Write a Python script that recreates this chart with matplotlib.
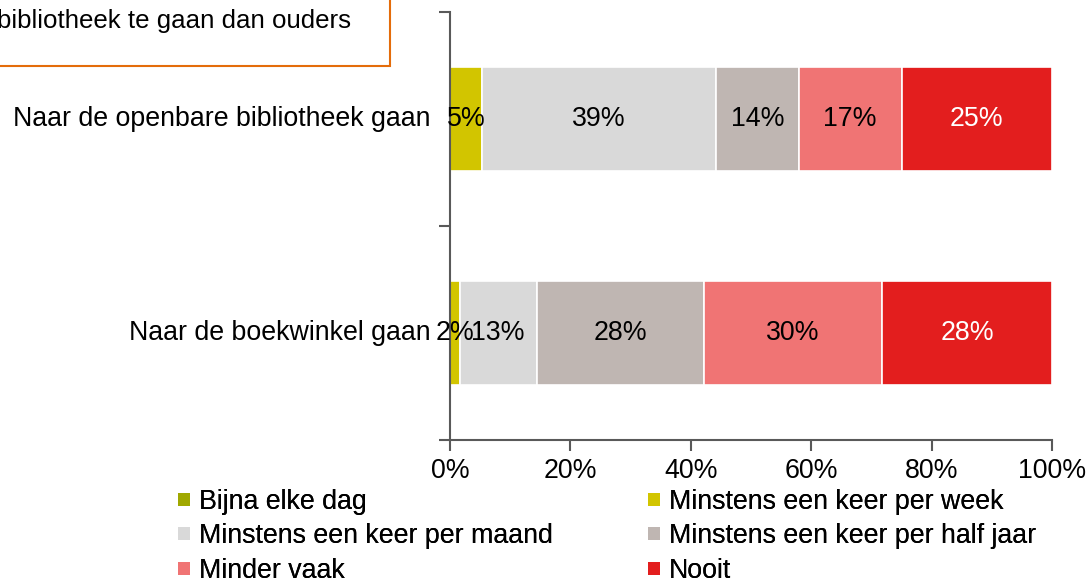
import matplotlib
matplotlib.use("Agg")
import matplotlib.pyplot as plt
from matplotlib.patches import Rectangle, Patch
import numpy as np

plt.rcParams['font.family'] = ['Liberation Sans', 'DejaVu Sans']

categories = ["Naar de boekwinkel gaan", "Naar de openbare bibliotheek gaan"]
series = ["Bijna elke dag", "Minstens een keer per week", "Minstens een keer per maand",
          "Minstens een keer per half jaar", "Minder vaak", "Nooit"]
values = {
    "Bijna elke dag":                  [0.0, 0.0],
    "Minstens een keer per week":      [1.6, 5.3],
    "Minstens een keer per maand":     [12.8, 38.9],
    "Minstens een keer per half jaar": [27.8, 13.7],
    "Minder vaak":                     [29.6, 17.1],
    "Nooit":                           [28.2, 25.0],
}
colors = ["#A0A800", "#D2C500", "#D9D9D9", "#BFB6B2", "#F07474", "#E31E1E"]
label_colors = ["black", "black", "black", "black", "black", "white"]
xticks = [0, 20, 40, 60, 80, 100]
xticklabels = ["0%", "20%", "40%", "60%", "80%", "100%"]
box_text = "bibliotheek te gaan dan ouders"

W, H = 1089, 586
fig = plt.figure(figsize=(W/100, H/100), dpi=100)
ax = fig.add_axes([450/W, 1-440/H, (1052-450)/W, (440-12)/H])

y = np.arange(len(categories))
left = np.zeros(len(categories))
FS = 19.3
for s, c, lc in zip(series, colors, label_colors):
    v = np.array(values[s])
    ax.barh(y, v, left=left, height=0.49, color=c, edgecolor="white", linewidth=1.2)
    for yi, (vi, li) in enumerate(zip(v, left)):
        if vi > 0:
            ax.text(li + vi/2, yi, f"{vi:.0f}%", ha="center", va="center",
                    fontsize=FS, color=lc)
    left += v

ax.set_xlim(0, 100)
ax.set_ylim(-0.5, 1.5)
ax.set_xticks(xticks)
ax.set_xticklabels(xticklabels, fontsize=FS)
ax.set_yticks([-0.5, 0.5, 1.5])
ax.set_yticklabels([])
for yi, cat in enumerate(categories):
    ax.text(-3.3, yi, cat, ha="right", va="center", fontsize=FS, transform=ax.transData)
for sp in ["top", "right"]:
    ax.spines[sp].set_visible(False)
for sp in ["left", "bottom"]:
    ax.spines[sp].set_color("#595959")
    ax.spines[sp].set_linewidth(1.5)
ax.tick_params(axis="both", direction="out", length=8, width=1.5, color="#595959", pad=5)

handles = [Patch(facecolor=c, edgecolor="none") for c in colors]
legkw = dict(loc="upper left", frameon=False, fontsize=FS, handlelength=0.45,
             handleheight=0.37, handletextpad=0.33, labelspacing=0.31,
             borderpad=0, borderaxespad=0)
for cols, x0 in (([0, 2, 4], 178), ([1, 3, 5], 648)):
    leg = fig.legend([handles[i] for i in cols], [series[i] for i in cols],
                     bbox_to_anchor=(x0/W, 1-489/H), **legkw)
    fig.add_artist(leg)

fig.patches.append(Rectangle((-0.01, 1-66/H), 0.01+390/W, 0.2,
                             transform=fig.transFigure, fill=False,
                             edgecolor="#E46C0A", linewidth=1.5))
fig.text(-3/W, 1-28/H, box_text, fontsize=18.6, ha="left", va="baseline")

fig.savefig("out.png", dpi=100)
